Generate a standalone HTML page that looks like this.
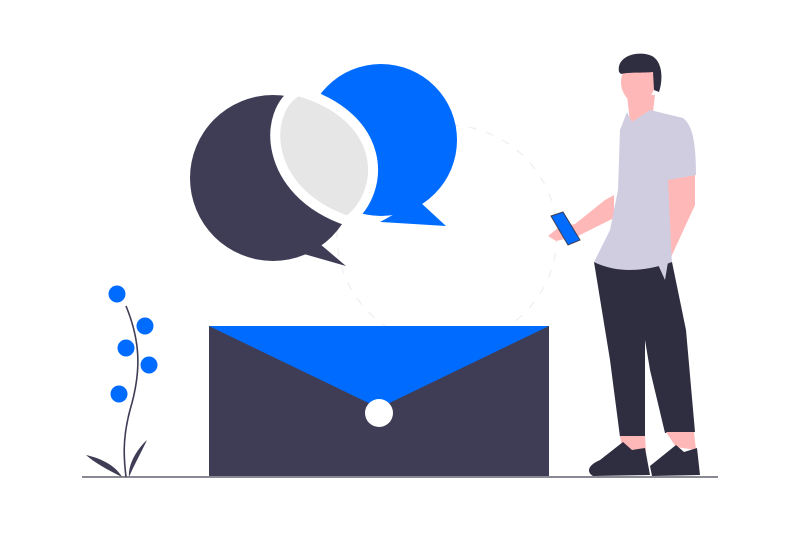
<!DOCTYPE html>
<html><head><meta charset="utf-8"><style>html,body{margin:0;padding:0;background:#fff;}svg{display:block}</style></head>
<body>
<svg width="800" height="533" viewBox="0 0 800 533" xmlns="http://www.w3.org/2000/svg">
<circle cx="447" cy="235" r="110" fill="none" stroke="#eeeeee" stroke-width="1.2" stroke-dasharray="8 10"/>
<!-- dark bubble -->
<circle cx="273" cy="178" r="83" fill="#3f3d56"/>
<path d="M297,252 L320,244 L346,266 Z" fill="#3f3d56"/>
<!-- blue bubble -->
<circle cx="381" cy="140" r="76" fill="#006cff"/>
<path d="M398,212 L420,202 L446,226 L380,222 Z" fill="#006cff"/>
<!-- lens -->
<path d="M298,91 C262,110 262,192 348,221 C388,190 386,116 298,91 Z" fill="#e6e6e6" stroke="#fff" stroke-width="10"/>
<!-- envelope -->
<rect x="209" y="326" width="340" height="152" fill="#3f3d56"/>
<path d="M209,326 L549,326 L379,408 Z" fill="#006cff"/>
<circle cx="379" cy="413" r="14" fill="#fff"/>
<!-- ground -->
<rect x="82" y="476" width="636" height="2" fill="#8a8a94"/>
<!-- plant -->
<path d="M126,306 C140,340 142,370 130,410 C122,440 124,460 126,477" fill="none" stroke="#3f3d56" stroke-width="1.6"/>
<path d="M86,455 C100,458 115,465 122,477 C108,470 95,463 86,455 Z" fill="#3f3d56"/>
<path d="M147,440 C140,455 134,465 129,477 C128,465 136,450 147,440 Z" fill="#3f3d56"/>
<g fill="#006cff">
<circle cx="117" cy="294" r="8.5"/><circle cx="145" cy="326" r="8.5"/><circle cx="126" cy="348" r="8.5"/><circle cx="149" cy="365" r="8.5"/><circle cx="119" cy="394" r="8.5"/>
</g>
<!-- person -->
<g>
<path d="M668,178 L695,175 L695,205 L672,255 L664,272 L656,265 L660,248 Z" fill="#ffb8b8"/>
<path d="M614,195 L614,218 L578,236 L556,241 L548,236 L558,228 L575,224 L605,200 Z" fill="#ffb8b8"/>
<path d="M627,95 L655,95 L652,120 L630,122 Z" fill="#ffb8b8"/>
<ellipse cx="638" cy="82" rx="17" ry="21" fill="#ffb8b8"/>
<path d="M619,72 C616,55 640,50 652,56 C663,62 663,80 659,92 L654,90 L653,72 C645,73 630,72 621,74 Z" fill="#2f2e41"/>
<path d="M627,112 L632,122 L650,110 L683,118 C692,125 696,140 696,175 L668,180 L672,265 C650,270 620,275 594,262 L610,230 L618,190 L620,130 Z" fill="#d0cde1"/>
<path d="M594,262 C620,275 650,270 672,262 L686,330 L695,432 L665,433 L650,370 L645,340 L645,437 L620,437 L610,360 Z" fill="#2f2e41"/>
<path d="M656,260 L665,280 L668,262 Z" fill="#d0cde1"/>
<path d="M620,436 L645,436 L646,452 L622,448 Z" fill="#ffb8b8"/>
<path d="M666,432 L694,432 L696,450 L676,447 Z" fill="#ffb8b8"/>
<path d="M623,442 L632,450 L645,448 L650,475 L593,476 C586,472 588,465 600,460 Z" fill="#2f2e41"/>
<path d="M676,445 L684,452 L697,448 L700,475 L652,476 L650,466 Z" fill="#2f2e41"/>
<path d="M551,216 L563,212 L580,240 L568,245 Z" fill="#006cff" stroke="#3f3d56" stroke-width="1"/>
</g>
</svg>
</body></html>
